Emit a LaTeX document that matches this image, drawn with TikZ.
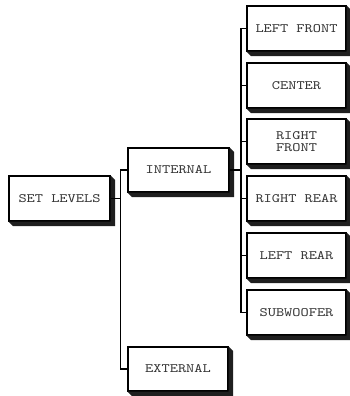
\documentclass[tikz,border=0pt]{standalone}
\usepackage{fontspec}
\newfontfamily\menufont[FakeStretch=1.22]{lmmono10-regular.otf}
\usetikzlibrary{calc}
\begin{document}
\begin{tikzpicture}[x=1pt,y=-1pt,
  menubox/.style={draw=black, line width=1.1pt, fill=white, inner sep=0pt,
    font=\menufont\fontsize{12.8}{12.5}\selectfont, align=center, text=black!80},
  wire/.style={draw=black, line width=1.5pt},
  shadowc/.style={fill=black!88}]
\useasboundingbox (0,0) rectangle (349,396);
\node[menubox, minimum width=101pt, minimum height=45pt] (set) at (59.5,198.5) {SET LEVELS};
\node[menubox, minimum width=101pt, minimum height=44pt] (int) at (178.5,170) {INTERNAL};
\node[menubox, minimum width=100pt, minimum height=44pt] (ext) at (178,369) {EXTERNAL};
\node[menubox, minimum width=99pt, minimum height=45pt] (lf) at (296.5,28.5) {LEFT FRONT};
\node[menubox, minimum width=99pt, minimum height=45pt] (ce) at (296.5,85.5) {CENTER};
\node[menubox, minimum width=99pt, minimum height=45pt] (rf) at (296.5,141.5) {RIGHT\\FRONT};
\node[menubox, minimum width=99pt, minimum height=45pt] (rr) at (296.5,198.5) {RIGHT REAR};
\node[menubox, minimum width=99pt, minimum height=45pt] (lr) at (296.5,255.5) {LEFT REAR};
\node[menubox, minimum width=99pt, minimum height=45pt] (sw) at (296.5,312.5) {SUBWOOFER};
\foreach \n in {set,int,ext,lf,ce,rf,rr,lr,sw}{
  \fill[shadowc] (\n.north east) -- ([xshift=4.5pt,yshift=-4.5pt]\n.north east)
    -- ([xshift=4.5pt,yshift=-4.5pt]\n.south east)
    -- ([xshift=4.5pt,yshift=-4.5pt]\n.south west)
    -- (\n.south west) -- (\n.south east) -- cycle;
}
\coordinate (b1) at (120.5,0);
\coordinate (b2) at (241,0);
\draw[wire] (int.west) -- (int.west -| b1) -- (ext.west -| b1) -- (ext.west);
\draw[wire] (set.east) -- (set.east -| b1);
\draw[wire] (lf.west) -- (lf.west -| b2) -- (sw.west -| b2) -- (sw.west);
\draw[wire] (int.east) -- (int.east -| b2);
\foreach \n in {ce,rf,rr,lr}{
  \draw[wire] (\n.west) -- (\n.west -| b2);
}
\end{tikzpicture}
\end{document}
